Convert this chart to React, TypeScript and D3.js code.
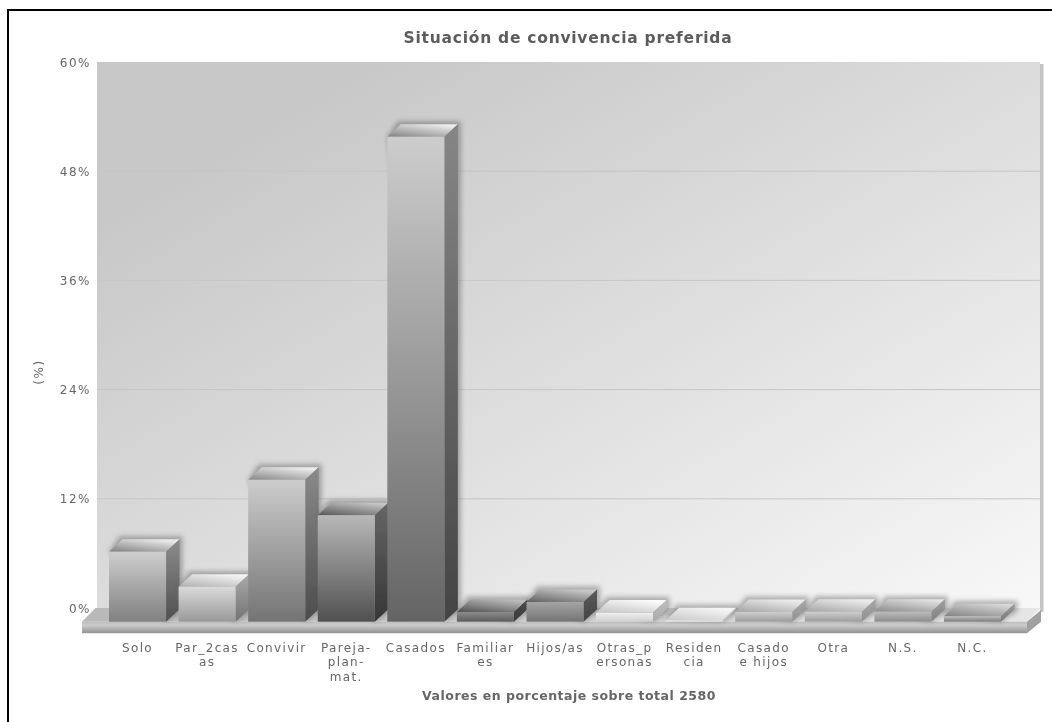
import * as d3 from "d3";

const categories = ["Solo", "Par_2casas", "Convivir", "Pareja-plan-mat.", "Casados", "Familiares", "Hijos/as", "Otras_personas", "Residencia", "Casado e hijos", "Otra", "N.S.", "N.C."];
const values = [7.7, 3.85, 15.6, 11.7, 53.3, 1.07, 2.16, 1.0, 0.15, 1.07, 1.1, 1.1, 0.6];
const labelLines = [["Solo"], ["Par_2cas", "as"], ["Convivir"], ["Pareja-", "plan-", "mat."], ["Casados"], ["Familiar", "es"], ["Hijos/as"], ["Otras_p", "ersonas"], ["Residen", "cia"], ["Casado", "e hijos"], ["Otra"], ["N.S."], ["N.C."]];
const yTicks = [0, 12, 24, 36, 48, 60];
// front face top/bottom, side top/bottom, cap dark/light
const frontTop = ["#cecece", "#dadada", "#cccccc", "#b8b8b8", "#cdcdcd", "#8c8c8c", "#a4a4a4", "#f0f0f0", "#eeeeee", "#cfcfcf", "#cfcfcf", "#bdbdbd", "#bdbdbd"];
const frontBottom = ["#808080", "#999999", "#747474", "#505050", "#646464", "#5c5c5c", "#747474", "#cfcfcf", "#e4e4e4", "#9c9c9c", "#9c9c9c", "#8c8c8c", "#7c7c7c"];
const sideTop = ["#8c8c8c", "#aaaaaa", "#8a8a8a", "#666666", "#868686", "#4a4a4a", "#5a5a5a", "#c0c0c0", "#c8c8c8", "#aaaaaa", "#aaaaaa", "#a0a0a0", "#9a9a9a"];
const sideBottom = ["#505050", "#737373", "#4c4c4c", "#363636", "#444444", "#3c3c3c", "#444444", "#a8a8a8", "#c0c0c0", "#909090", "#909090", "#808080", "#7a7a7a"];
const capDark = ["#808080", "#b0b0b0", "#868686", "#565656", "#828282", "#505050", "#606060", "#c4c4c4", "#c8c8c8", "#a4a4a4", "#a4a4a4", "#8a8a8a", "#828282"];
const capLight = ["#ebebeb", "#f4f4f4", "#ececec", "#c4c4c4", "#ececec", "#bcbcbc", "#c8c8c8", "#fafafa", "#f6f6f6", "#ececec", "#ececec", "#e2e2e2", "#d6d6d6"];

const dx = 13.5;
const dy = 12.5;
const font = "'DejaVu Sans', Verdana, sans-serif";

const x = d3.scaleBand<string>().domain(categories).range([109, 1001]).paddingInner(0.18).paddingOuter(0);
const yWall = d3.scaleLinear().domain([0, 60]).range([608, 62]);
const baseShift = 13.7; // front plane sits below the back wall
const yFront = (v: number) => yWall(v) + baseShift;

const poly = (pts: [number, number][]) => d3.line()(pts) + "Z";

export default function App() {
  const floorY = yFront(0);
  return (
    <svg width={1052} height={722} style={{ position: "absolute", left: 0, top: 0, background: "#fff" }}>
      <defs>
        <linearGradient id="wall" x1="0" y1="0" x2="1" y2="1">
          <stop offset="0.15" stopColor="#c8c8c8" />
          <stop offset="1" stopColor="#f8f8f8" />
        </linearGradient>
        <linearGradient id="floorFront" x1="0" y1="0" x2="0" y2="1">
          <stop offset="0" stopColor="#bcbcbc" />
          <stop offset="0.3" stopColor="#cccccc" />
          <stop offset="1" stopColor="#929292" />
        </linearGradient>
        <linearGradient id="floorTop" x1="0" y1="0" x2="1" y2="0">
          <stop offset="0" stopColor="#b8b8b8" />
          <stop offset="1" stopColor="#e6e6e6" />
        </linearGradient>
        <filter id="soft" x="-2%" y="-2%" width="104%" height="104%">
          <feGaussianBlur stdDeviation="0.6" />
        </filter>
        <filter id="shade" x="-30%" y="-30%" width="160%" height="160%">
          <feGaussianBlur stdDeviation="2.5" />
        </filter>
        {categories.map((c, i) => (
          <g key={c}>
            <linearGradient id={`front${i}`} x1="0" y1="0" x2="0" y2="1">
              <stop offset="0" stopColor={frontTop[i]} />
              <stop offset="1" stopColor={frontBottom[i]} />
            </linearGradient>
            <linearGradient id={`side${i}`} x1="0" y1="0" x2="0" y2="1">
              <stop offset="0" stopColor={sideTop[i]} />
              <stop offset="1" stopColor={sideBottom[i]} />
            </linearGradient>
            <linearGradient id={`cap${i}`} x1="0" y1="1" x2="0.7" y2="0">
              <stop offset="0" stopColor={capDark[i]} />
              <stop offset="1" stopColor={capLight[i]} />
            </linearGradient>
          </g>
        ))}
      </defs>
      <g filter="url(#soft)">
        <path d="M8,722V10H1052" fill="none" stroke="#000" strokeWidth={2} />
        <text x={568} y={43} textAnchor="middle" fontFamily={font} fontWeight="bold" fontSize={15.5} letterSpacing={0.75} fill="#5c5c5c">
          Situación de convivencia preferida
        </text>

        <rect x={97} y={yWall(60)} width={943} height={yWall(0) - yWall(60)} fill="url(#wall)" />
        <rect x={1040} y={yWall(60) + 2} width={3.5} height={yWall(0) - yWall(60) + 2} fill="#c4c4c4" />
        {yTicks.map((t) => (
          <g key={t}>
            {t > 0 && t < 60 && <line x1={97} x2={1040} y1={yWall(t)} y2={yWall(t)} stroke="#c6c6c6" />}
            <text x={91} y={yWall(t) + 4.5} textAnchor="end" fontFamily={font} fontSize={12} letterSpacing={1.5} fill="#666">
              {t}%
            </text>
          </g>
        ))}
        <text transform="translate(43,372) rotate(-90)" textAnchor="middle" fontFamily={font} fontSize={12} letterSpacing={1.5} fill="#666">
          (%)
        </text>

        {/* floor */}
        <path d={poly([[82, floorY], [82 + dx, yWall(0)], [1041, yWall(0)], [1027, floorY]])} fill="url(#floorTop)" />
        <rect x={82} y={floorY} width={945} height={11.5} fill="url(#floorFront)" />
        <path d={poly([[1027, floorY], [1041, yWall(0) + 2], [1041, floorY], [1027, floorY + 11.5]])} fill="#a0a0a0" />

        {categories.map((c, i) => {
          const x0 = x(c)!;
          const x1 = x0 + x.bandwidth();
          const top = yFront(values[i]);
          const capPts: [number, number][] = [[x0, top], [x0 + dx, top - dy], [x1 + dx, top - dy], [x1, top]];
          const sidePts: [number, number][] = [[x1, top], [x1 + dx, top - dy], [x1 + dx, floorY - dy], [x1, floorY]];
          return (
            <g key={c}>
              <path d={poly([[x0 + dx - 3, top - dy - 3], [x1 + dx + 3, top - dy - 3], [x1 + dx + 3, floorY - dy + 2], [x1, floorY], [x0, top]])} fill="#444" opacity={0.4} filter="url(#shade)" />
              <path d={poly(capPts)} fill={`url(#cap${i})`} />
              <path d={poly(sidePts)} fill={`url(#side${i})`} />
              <rect x={x0} y={top} width={x.bandwidth()} height={floorY - top} fill={`url(#front${i})`} />
            </g>
          );
        })}

        {categories.map((c, i) => (
          <text key={c} textAnchor="middle" fontFamily={font} fontSize={12} letterSpacing={1.35} fill="#666">
            {labelLines[i].map((line, j) => (
              <tspan key={j} x={x(c)! + x.bandwidth() / 2} y={651.5 + j * 14.5}>
                {line}
              </tspan>
            ))}
          </text>
        ))}
        <text x={569} y={699.5} textAnchor="middle" fontFamily={font} fontWeight="bold" fontSize={12.5} letterSpacing={0.5} fill="#666">
          Valores en porcentaje sobre total 2580
        </text>
      </g>
    </svg>
  );
}
